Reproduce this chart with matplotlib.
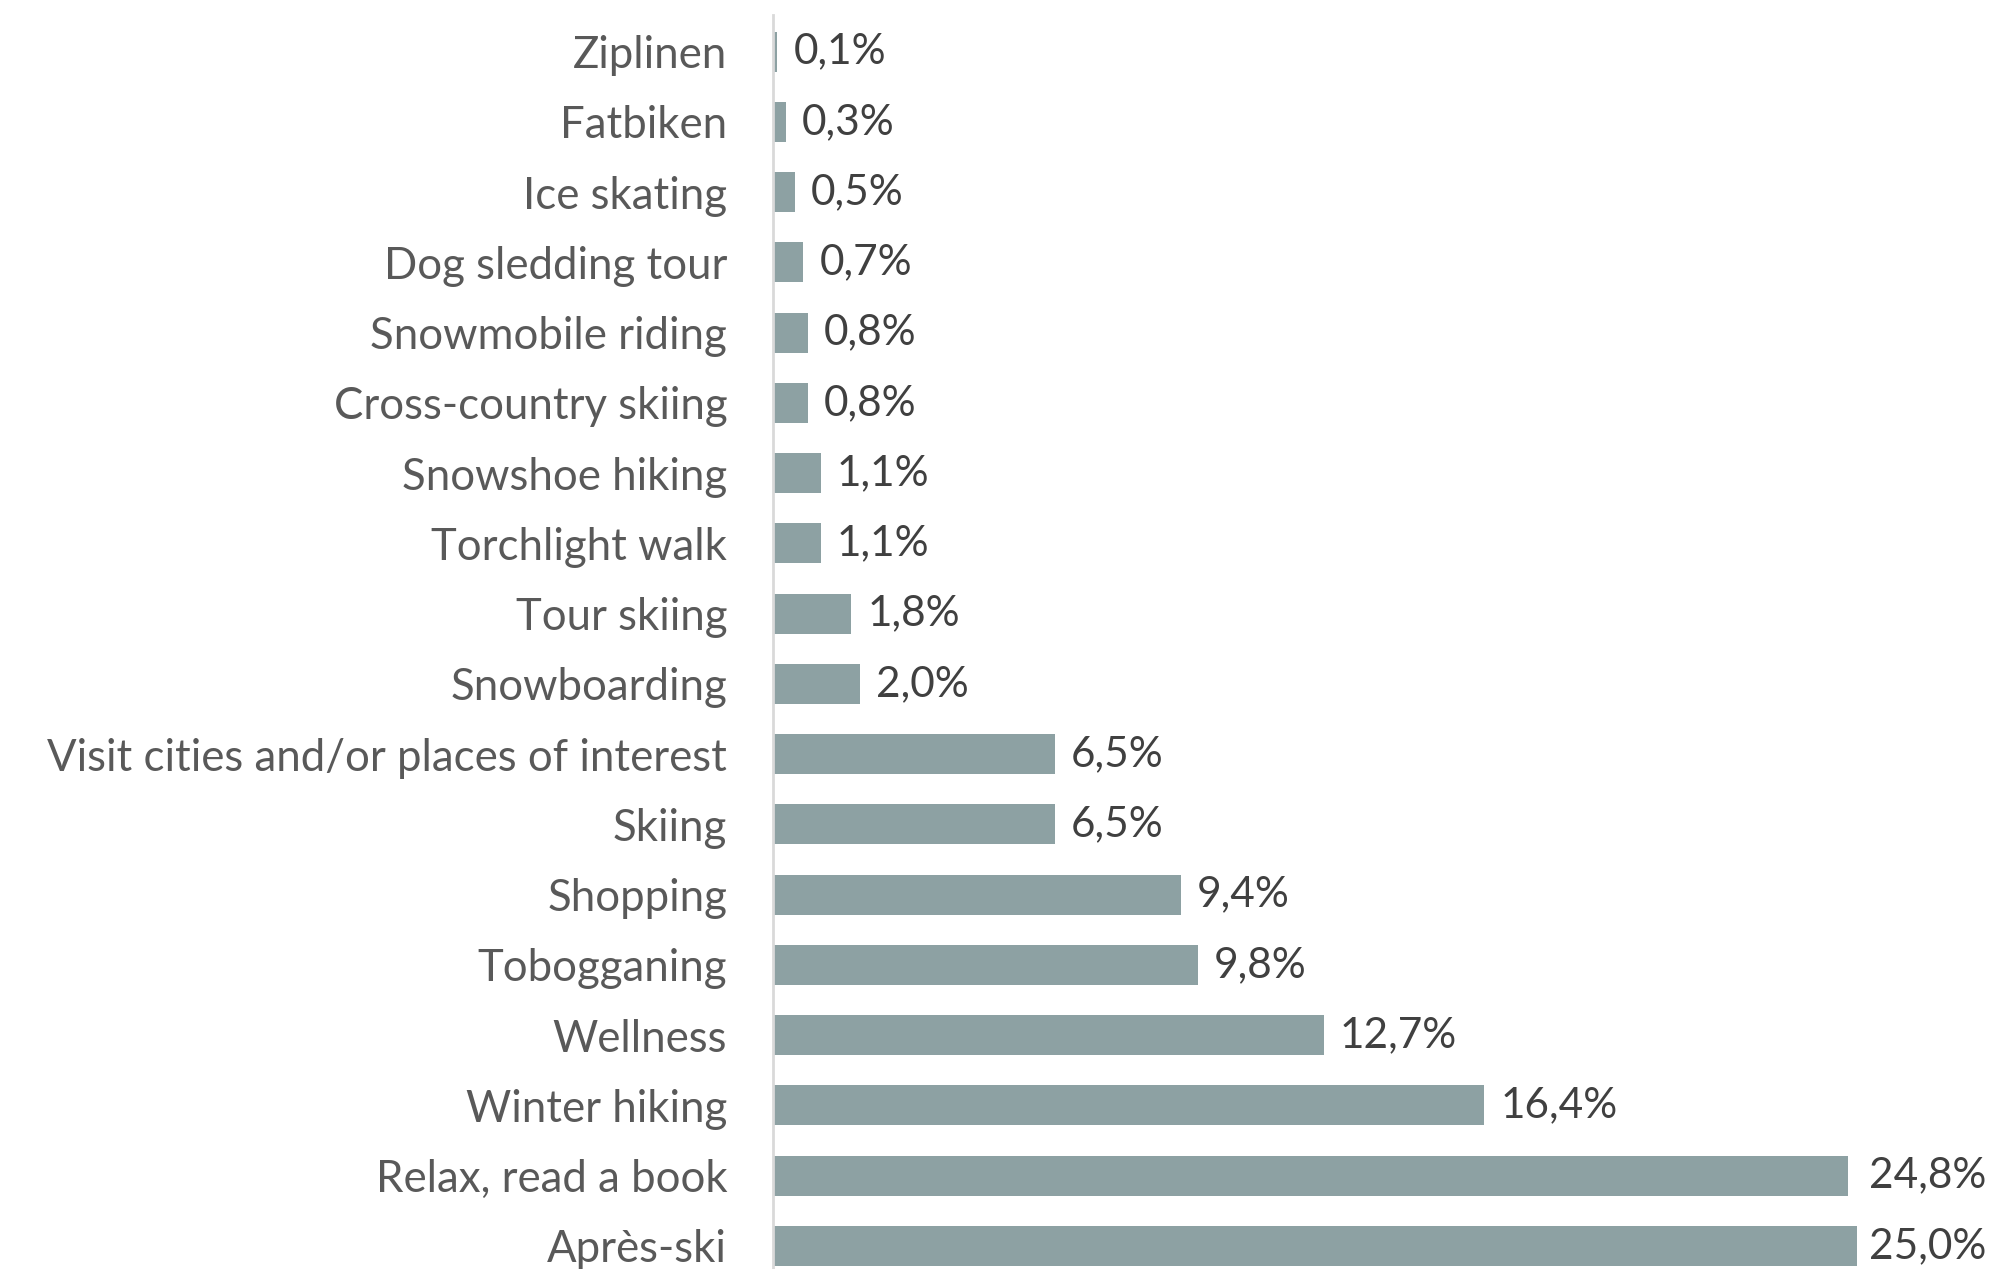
import matplotlib
matplotlib.use("Agg")
import matplotlib.pyplot as plt

categories = [
    "Ziplinen", "Fatbiken", "Ice skating", "Dog sledding tour",
    "Snowmobile riding", "Cross-country skiing", "Snowshoe hiking",
    "Torchlight walk", "Tour skiing", "Snowboarding",
    "Visit cities and/or places of interest", "Skiing", "Shopping",
    "Tobogganing", "Wellness", "Winter hiking", "Relax, read a book",
    "Après-ski",
]
values = [0.1, 0.3, 0.5, 0.7, 0.8, 0.8, 1.1, 1.1, 1.8, 2.0,
          6.5, 6.5, 9.4, 9.8, 12.7, 16.4, 24.8, 25.0]

BAR = "#8DA1A3"
LABEL = "#595959"
VALUE = "#404040"
FONT = "Lato"

W, H = 1994, 1269
fig = plt.figure(figsize=(W / 100, H / 100), dpi=100)
ax = fig.add_axes([773 / W, 0, 1 - 773 / W, (H - 15) / H])

n = len(categories)
ypos = list(range(n - 1, -1, -1))
ax.barh(ypos, values, height=0.57, color=BAR)

ax.set_xlim(0, 28.16)
ax.set_ylim(-0.33, n - 0.48)
ax.set_yticks(ypos)
ax.set_yticklabels(categories, fontsize=31.5, color=LABEL, family=FONT)
ax.tick_params(axis="y", length=0, pad=33)
ax.set_xticks([])
for side in ("top", "right", "bottom"):
    ax.spines[side].set_visible(False)
ax.spines["left"].set_color("#D9D9D9")
ax.spines["left"].set_linewidth(2)

right_edge = 28.16 * (1986 - 773) / (W - 773)
for y, v in zip(ypos, values):
    txt = f"{v:.1f}".replace(".", ",") + "%"
    if v > 24:
        ax.text(right_edge, y, txt, va="center", ha="right", fontsize=30.5,
                color=VALUE, family=FONT)
    else:
        ax.text(v + 0.37, y, txt, va="center", ha="left", fontsize=30.5,
                color=VALUE, family=FONT)

fig.savefig("out.png", dpi=100)
